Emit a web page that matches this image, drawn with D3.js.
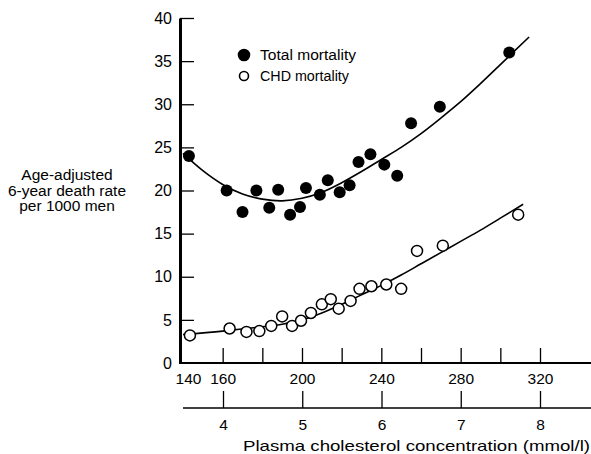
<!DOCTYPE html>
<html>
<head>
<meta charset="utf-8">
<script src="https://cdn.jsdelivr.net/npm/d3@7"></script>
<style>
  body { margin: 0; background: #fff; }
  svg { display: block; font-family: "Liberation Sans", Arial, sans-serif; }
</style>
</head>
<body>
<script>
// data

// total mortality (filled circles)
var totalChol = [143, 162, 170, 177, 183.5, 188, 194, 199, 202, 209, 213, 219, 224, 228.5, 234.5, 241.5, 248, 255, 269.5, 304.5];
var totalRate = [24.0, 20.0, 17.5, 20.0, 18.0, 20.1, 17.2, 18.1, 20.3, 19.5, 21.2, 19.8, 20.6, 23.3, 24.2, 23.0, 21.7, 27.8, 29.7, 36.0];

// CHD mortality (open circles)
var chdChol = [143.5, 163.5, 172, 178.5, 184.5, 190, 195, 199.5, 204.5, 210, 214.5, 218.5, 224.5, 229, 235, 242.5, 250, 258, 271, 309];
var chdRate = [3.2, 4.0, 3.6, 3.7, 4.3, 5.4, 4.3, 4.9, 5.8, 6.8, 7.4, 6.3, 7.2, 8.6, 8.9, 9.1, 8.6, 13.0, 13.6, 17.2];

// fitted curves as drawn in the figure
var totalFitX = [140, 150, 160, 170, 180, 190, 200, 210, 220, 230, 240, 250, 260, 270, 280, 290, 300, 314.5];
var totalFitY = [24.3, 22.3, 20.7, 19.6, 19.0, 18.8, 19.1, 19.8, 20.9, 22.2, 23.6, 25.0, 26.6, 28.4, 30.3, 32.4, 34.6, 37.8];
var chdFitX = [140, 160, 180, 190, 200, 210, 220, 230, 240, 250, 260, 270, 280, 290, 300, 311.5];
var chdFitY = [3.3, 3.7, 4.2, 4.5, 5.0, 5.8, 6.8, 7.9, 9.0, 10.2, 11.5, 12.8, 14.1, 15.4, 16.8, 18.4];

// axis ticks
var yTicks = [0, 5, 10, 15, 20, 25, 30, 35, 40];
var mgTicks = [140, 160, 180, 200, 220, 240, 260, 280, 300, 320];
var mgLabels = [140, 160, 200, 240, 280, 320];
var mmolTicks = [4, 5, 6, 7, 8];

var legendItems = [
	{'name': 'Total mortality', 'filled': true},
	{'name': 'CHD mortality', 'filled': false}
];

var width = 591,
	height = 454;

var x = d3.scaleLinear().domain([140, 320]).range([183, 540]);
var y = d3.scaleLinear().domain([0, 40]).range([363, 18]);
var xm = d3.scaleLinear().domain([4, 8]).range([223, 540]);

var svg = d3.select('body').append('svg')
	.attr('width', width)
	.attr('height', height);

// y axis
var yAxis = svg.append('g')
	.attr('transform', 'translate(180,0)')
	.call(d3.axisLeft(y)
		.tickValues(yTicks)
		.tickSizeInner(-14)
		.tickSizeOuter(0)
		.tickPadding(8));
yAxis.select('.domain').attr('stroke-width', 3);
yAxis.selectAll('.tick line').attr('stroke-width', 1.3);
yAxis.selectAll('.tick text')
	.attr('font-size', '16px')
	.attr('font-family', '"Liberation Sans", Arial, sans-serif')
	.attr('fill', '#000');
yAxis.select('.tick:first-of-type line').remove();

// top x axis (mg/dl)
var xAxis = svg.append('g')
	.attr('transform', 'translate(0,' + y(0) + ')')
	.call(d3.axisBottom(x)
		.tickValues(mgTicks)
		.tickSizeInner(-15)
		.tickSizeOuter(0)
		.tickPadding(10)
		.tickFormat(function(d) { return mgLabels.indexOf(d) >= 0 ? d : ''; }));
xAxis.select('.domain').remove();
xAxis.selectAll('.tick line').attr('stroke-width', 1.3);
xAxis.selectAll('.tick text')
	.attr('font-size', '15.5px')
	.attr('font-family', '"Liberation Sans", Arial, sans-serif')
	.attr('fill', '#000');
xAxis.selectAll('.tick')
	.filter(function(d) { return d === 140; })
	.each(function() {
		d3.select(this).select('line').remove();
		d3.select(this).select('text').attr('dx', 5);
	});
xAxis.append('line')
	.attr('x1', 179)
	.attr('x2', width)
	.attr('stroke', '#000')
	.attr('stroke-width', 2);

// bottom x axis (mmol/l)
var mAxis = svg.append('g')
	.attr('transform', 'translate(0,408)')
	.call(d3.axisBottom(xm)
		.tickValues(mmolTicks)
		.tickSizeInner(-17)
		.tickSizeOuter(0)
		.tickPadding(11)
		.tickFormat(d3.format('d')));
mAxis.select('.domain').remove();
mAxis.selectAll('.tick line').attr('stroke-width', 1.3);
mAxis.selectAll('.tick text')
	.attr('font-size', '15.5px')
	.attr('font-family', '"Liberation Sans", Arial, sans-serif')
	.attr('fill', '#000');
mAxis.append('line')
	.attr('x1', x(140))
	.attr('x2', width)
	.attr('stroke', '#000')
	.attr('stroke-width', 1.6);

// axis titles
svg.append('text')
	.attr('x', 243)
	.attr('y', 451)
	.attr('font-size', '15px')
	.attr('textLength', 347)
	.attr('lengthAdjust', 'spacingAndGlyphs')
	.text('Plasma cholesterol concentration (mmol/l)');

var yTitle = ['Age-adjusted', '6-year death rate', 'per 1000 men'];
svg.selectAll('.ytitle')
	.data(yTitle)
	.enter().append('text')
	.attr('class', 'ytitle')
	.attr('x', 67)
	.attr('y', function(d, i) { return 180 + i * 15.5; })
	.attr('text-anchor', 'middle')
	.attr('font-size', '15.5px')
	.text(function(d) { return d; });

// fitted curves
var line = d3.line()
	.x(function(d) { return x(d[0]); })
	.y(function(d) { return y(d[1]); })
	.curve(d3.curveCatmullRom);

svg.append('path')
	.datum(d3.zip(totalFitX, totalFitY))
	.attr('d', line)
	.attr('fill', 'none')
	.attr('stroke', '#000')
	.attr('stroke-width', 1.6);

svg.append('path')
	.datum(d3.zip(chdFitX, chdFitY))
	.attr('d', line)
	.attr('fill', 'none')
	.attr('stroke', '#000')
	.attr('stroke-width', 1.6);

// points
svg.selectAll('.total')
	.data(d3.zip(totalChol, totalRate))
	.enter().append('circle')
	.attr('class', 'total')
	.attr('cx', function(d) { return x(d[0]); })
	.attr('cy', function(d) { return y(d[1]); })
	.attr('r', 6)
	.style('fill', '#000');

svg.selectAll('.chd')
	.data(d3.zip(chdChol, chdRate))
	.enter().append('circle')
	.attr('class', 'chd')
	.attr('cx', function(d) { return x(d[0]); })
	.attr('cy', function(d) { return y(d[1]); })
	.attr('r', 5.5)
	.style('fill', '#fff')
	.style('stroke', '#000')
	.style('stroke-width', 1.5);

// legend
var legend = svg.selectAll('.legend')
	.data(legendItems)
	.enter().append('g')
	.attr('class', 'legend')
	.attr('transform', function(d, i) { return 'translate(244,' + (55 + i * 21) + ')'; });

legend.append('circle')
	.attr('r', function(d) { return d.filled ? 5.5 : 4.5; })
	.style('fill', function(d) { return d.filled ? '#000' : '#fff'; })
	.style('stroke', '#000')
	.style('stroke-width', 1.6);

legend.append('text')
	.attr('x', 16)
	.attr('dy', '0.35em')
	.attr('font-size', '14px')
	.attr('textLength', function(d) { return d.filled ? 96 : 89; })
	.attr('lengthAdjust', 'spacingAndGlyphs')
	.text(function(d) { return d.name; });
</script>
</body>
</html>
